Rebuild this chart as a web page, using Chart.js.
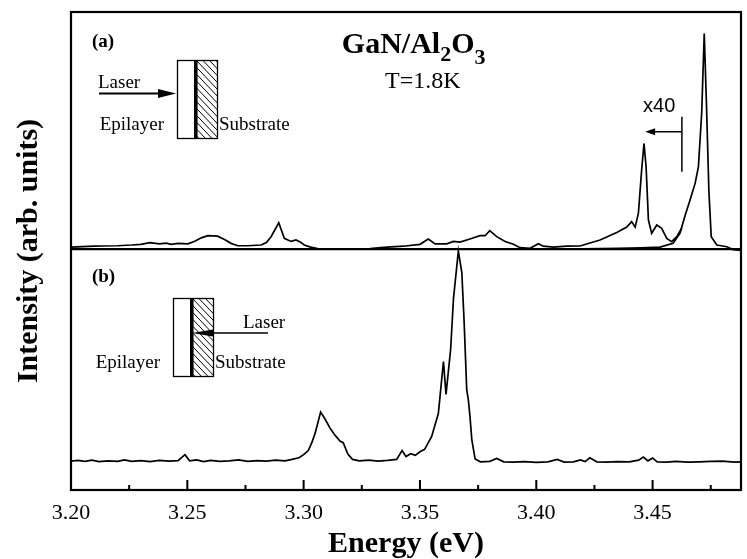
<!DOCTYPE html>
<html>
<head>
<meta charset="utf-8">
<script src="https://cdn.jsdelivr.net/npm/chart.js@4.4.1/dist/chart.umd.min.js"></script>
<style>
  html, body { margin: 0; padding: 0; background: #fff; }
  #wrap { width: 747px; height: 559px; }
</style>
</head>
<body>
<div id="wrap"><canvas id="c" width="747" height="559"></canvas></div>
<script>
// ---------- data ----------
// Panel (b): excitation from the substrate side
const energyB = [3.200,3.203,3.206,3.209,3.212,3.216,3.220,3.223,3.226,3.230,3.234,3.238,3.242,3.246,3.249,3.251,3.254,3.257,3.260,3.264,3.268,3.272,3.276,3.280,3.284,3.288,3.292,3.295,3.298,3.300,3.302,3.3036,3.305,3.3073,3.309,3.3113,3.313,3.3156,3.317,3.319,3.321,3.324,3.328,3.332,3.336,3.340,3.3423,3.344,3.346,3.348,3.350,3.352,3.355,3.3579,3.3601,3.3612,3.3632,3.3644,3.3665,3.368,3.369,3.3701,3.3708,3.3715,3.3723,3.3737,3.376,3.380,3.383,3.386,3.390,3.395,3.400,3.405,3.409,3.412,3.416,3.419,3.421,3.423,3.426,3.430,3.435,3.440,3.444,3.446,3.448,3.450,3.452,3.456,3.460,3.465,3.470,3.475,3.480,3.485,3.488];
const intensityB = [0.121,0.124,0.120,0.125,0.119,0.122,0.120,0.126,0.120,0.123,0.119,0.124,0.121,0.123,0.148,0.122,0.126,0.119,0.124,0.120,0.122,0.126,0.120,0.123,0.121,0.125,0.122,0.128,0.135,0.148,0.165,0.200,0.240,0.326,0.300,0.260,0.235,0.205,0.198,0.150,0.128,0.122,0.125,0.121,0.124,0.128,0.165,0.140,0.152,0.145,0.160,0.170,0.223,0.320,0.537,0.400,0.590,0.800,1.000,0.910,0.700,0.420,0.377,0.307,0.210,0.130,0.118,0.120,0.132,0.118,0.117,0.119,0.116,0.118,0.128,0.117,0.118,0.126,0.119,0.135,0.118,0.117,0.119,0.118,0.125,0.138,0.122,0.134,0.118,0.117,0.120,0.117,0.118,0.120,0.121,0.117,0.118];

// Panel (a): magnified (x40) trace
const energyA40 = [3.200,3.205,3.210,3.214,3.220,3.226,3.230,3.234,3.238,3.241,3.243,3.246,3.2502,3.253,3.256,3.2588,3.263,3.266,3.2688,3.2717,3.276,3.2817,3.284,3.286,3.2893,3.2917,3.2946,3.2967,3.2985,3.3003,3.303,3.306,3.310,3.320,3.3286,3.3343,3.3429,3.350,3.3536,3.3565,3.3615,3.3644,3.3672,3.3715,3.3758,3.378,3.380,3.383,3.3866,3.3902,3.393,3.3973,3.4009,3.403,3.4074,3.4102,3.4131,3.4188,3.4274,3.4346,3.4389,3.441,3.4425,3.4439,3.4453,3.4463,3.4472,3.4482,3.4496,3.4518,3.4539,3.4561,3.4582,3.4604,3.4625];
const intensityA40 = [1.016,1.018,1.020,1.021,1.022,1.025,1.028,1.035,1.030,1.033,1.028,1.032,1.030,1.040,1.055,1.064,1.062,1.048,1.032,1.022,1.022,1.025,1.035,1.060,1.118,1.053,1.040,1.046,1.038,1.025,1.016,1.010,1.008,1.008,1.010,1.015,1.020,1.028,1.050,1.030,1.030,1.040,1.037,1.050,1.064,1.064,1.085,1.060,1.040,1.028,1.014,1.011,1.030,1.020,1.016,1.018,1.020,1.021,1.046,1.077,1.100,1.123,1.100,1.158,1.340,1.450,1.353,1.130,1.074,1.109,1.095,1.053,1.039,1.060,1.095];

// Panel (a): unmagnified trace
const energyA = [3.400,3.420,3.435,3.445,3.4532,3.4588,3.4618,3.464,3.4661,3.4683,3.4697,3.4711,3.4722,3.4732,3.4742,3.4752,3.4776,3.4819,3.4846,3.488];
const intensityA = [1.008,1.009,1.011,1.013,1.016,1.032,1.075,1.150,1.213,1.284,1.353,1.577,1.910,1.600,1.250,1.060,1.025,1.018,1.006,1.002];

// Boundary between the two panels
const dividerE = [3.200, 3.488];
const dividerI = [1.008, 1.008];

// Axis ticks
const majorTicks = [3.20, 3.25, 3.30, 3.35, 3.40, 3.45];
const minorTicks = [3.225, 3.275, 3.325, 3.375, 3.425, 3.475];

// ---------- helpers ----------
const pts = (xs, ys) => xs.map((v, i) => ({ x: v, y: ys[i] }));
const SERIF = '"Liberation Serif", "Times New Roman", serif';
const SANS = '"Liberation Sans", Arial, sans-serif';

function drawInset(ctx, rx, ry, side) {
  const H = 78, W1 = 18, W2 = 21;
  ctx.save();
  ctx.strokeStyle = '#000'; ctx.fillStyle = '#000'; ctx.lineWidth = 1.3;
  // epilayer
  ctx.strokeRect(rx + 0.5, ry + 0.5, W1, H);
  // substrate with hatch
  const sx = rx + W1 + 1, sy = ry;
  ctx.save();
  ctx.beginPath(); ctx.rect(sx, sy, W2, H); ctx.clip();
  ctx.lineWidth = 1;
  for (let t = -H; t < W2 + 4; t += 6.5) {
    ctx.beginPath(); ctx.moveTo(sx + t, sy); ctx.lineTo(sx + t + H * 0.95, sy + H); ctx.stroke();
  }
  ctx.restore();
  ctx.lineWidth = 1.3;
  ctx.strokeRect(sx + 0.5, sy + 0.5, W2, H);
  // thick interface
  ctx.fillRect(rx + W1 - 1, ry, 3.5, H + 1);
  ctx.font = '19px ' + SERIF;
  ctx.textBaseline = 'alphabetic';
  ctx.textAlign = 'right';
  ctx.fillText('Epilayer', rx - 13, ry + 70);
  ctx.textAlign = 'left';
  ctx.fillText('Substrate', rx + W1 + W2 + 3, ry + 70);
  if (side === 'front') {
    ctx.fillText('Laser', rx - 79, ry + 28);
    ctx.lineWidth = 2;
    ctx.beginPath(); ctx.moveTo(rx - 78, ry + 33.5); ctx.lineTo(rx - 14, ry + 33.5); ctx.stroke();
    ctx.beginPath(); ctx.moveTo(rx - 1, ry + 33.5); ctx.lineTo(rx - 19, ry + 29); ctx.lineTo(rx - 19, ry + 38); ctx.closePath(); ctx.fill();
  } else {
    ctx.fillText('Laser', rx + 70, ry + 30);
    ctx.lineWidth = 1.6;
    ctx.beginPath(); ctx.moveTo(rx + 33, ry + 35); ctx.lineTo(rx + 95, ry + 35); ctx.stroke();
    ctx.beginPath(); ctx.moveTo(rx + 19, ry + 35); ctx.lineTo(rx + 40, ry + 31.5); ctx.lineTo(rx + 40, ry + 38.5); ctx.closePath(); ctx.fill();
  }
  ctx.restore();
}

const decor = {
  id: 'decor',
  afterDraw(chart) {
    const { ctx, chartArea: a, scales: { x, y } } = chart;
    ctx.save();
    ctx.strokeStyle = '#000'; ctx.fillStyle = '#000';
    // frame
    ctx.lineWidth = 2.2;
    ctx.strokeRect(a.left, a.top, a.right - a.left, a.bottom - a.top);
    // inward ticks on the bottom axis
    ctx.lineWidth = 2;
    majorTicks.forEach(v => {
      const p = x.getPixelForValue(v);
      ctx.beginPath(); ctx.moveTo(p, a.bottom); ctx.lineTo(p, a.bottom - 10); ctx.stroke();
    });
    minorTicks.forEach(v => {
      const p = x.getPixelForValue(v);
      ctx.beginPath(); ctx.moveTo(p, a.bottom); ctx.lineTo(p, a.bottom - 5); ctx.stroke();
    });

    const X = v => x.getPixelForValue(v), Y = v => y.getPixelForValue(v);
    ctx.textAlign = 'left'; ctx.textBaseline = 'alphabetic';
    // panel labels
    ctx.font = 'bold 19px ' + SERIF;
    ctx.fillText('(a)', X(3.2090), Y(1.8536));
    ctx.fillText('(b)', X(3.2090), Y(0.870));
    // sample label with subscripts
    let gx = X(3.3164); const gy = Y(1.827);
    const seg = (t, f, dy) => { ctx.font = f; ctx.fillText(t, gx, gy + dy); gx += ctx.measureText(t).width; };
    seg('GaN/Al', 'bold 30px ' + SERIF, 0);
    seg('2', 'bold 22px ' + SERIF, 8);
    seg('O', 'bold 30px ' + SERIF, 0);
    seg('3', 'bold 22px ' + SERIF, 11);
    // temperature
    ctx.font = '24px ' + SERIF;
    ctx.fillText('T=1.8K', X(3.3350), Y(1.682));
    // x40 marker
    ctx.font = '20px ' + SANS;
    ctx.fillText('x40', X(3.4459), Y(1.582));
    ctx.lineWidth = 1.5;
    const ax = X(3.4626), ay = Y(1.499);
    ctx.beginPath(); ctx.moveTo(ax, Y(1.562)); ctx.lineTo(ax, Y(1.332)); ctx.stroke();
    ctx.beginPath(); ctx.moveTo(ax, ay); ctx.lineTo(X(3.4468) + 8, ay); ctx.stroke();
    ctx.beginPath(); ctx.moveTo(X(3.4468), ay); ctx.lineTo(X(3.4468) + 10, ay - 3.5); ctx.lineTo(X(3.4468) + 10, ay + 3.5); ctx.closePath(); ctx.fill();
    ctx.restore();
    // geometry insets
    drawInset(ctx, Math.round(X(3.2454)), Math.round(Y(1.799)), 'front');
    drawInset(ctx, Math.round(X(3.2439)), Math.round(Y(0.803)), 'back');
  }
};

const lineStyle = { borderColor: '#000', borderWidth: 1.7, pointRadius: 0, tension: 0, fill: false };

new Chart(document.getElementById('c'), {
  type: 'line',
  data: {
    datasets: [
      Object.assign({ label: 'divider', data: pts(dividerE, dividerI) }, lineStyle, { borderWidth: 2.2 }),
      Object.assign({ label: '(b)', data: pts(energyB, intensityB) }, lineStyle),
      Object.assign({ label: '(a) x40', data: pts(energyA40, intensityA40) }, lineStyle),
      Object.assign({ label: '(a)', data: pts(energyA, intensityA) }, lineStyle)
    ]
  },
  options: {
    responsive: false,
    animation: false,
    devicePixelRatio: 1,
    layout: { padding: { top: 12, right: 6, left: 0, bottom: 0 } },
    plugins: { legend: { display: false }, tooltip: { enabled: false } },
    scales: {
      x: {
        type: 'linear', min: 3.2, max: 3.488,
        grid: { display: false, drawTicks: false },
        border: { display: false },
        afterBuildTicks: s => { s.ticks = majorTicks.map(v => ({ value: v })); },
        afterFit: s => { s.height = 69; },
        ticks: {
          color: '#000', padding: 10, maxRotation: 0, autoSkip: false,
          font: { family: SERIF, size: 22 },
          callback: v => Number(v).toFixed(2)
        },
        title: {
          display: true, text: 'Energy (eV)', color: '#000',
          font: { family: SERIF, size: 30, weight: 'bold', lineHeight: 1 },
          padding: { top: 0, bottom: 0 }
        }
      },
      y: {
        type: 'linear', min: 0, max: 2,
        grid: { display: false, drawTicks: false },
        border: { display: false },
        ticks: { display: false },
        afterFit: s => { s.width = 71; },
        title: {
          display: true, text: 'Intensity (arb. units)', color: '#000',
          font: { family: SERIF, size: 30, weight: 'bold', lineHeight: 1 },
          padding: { top: 14, bottom: 0 }
        }
      }
    }
  },
  plugins: [decor]
});
</script>
</body>
</html>
